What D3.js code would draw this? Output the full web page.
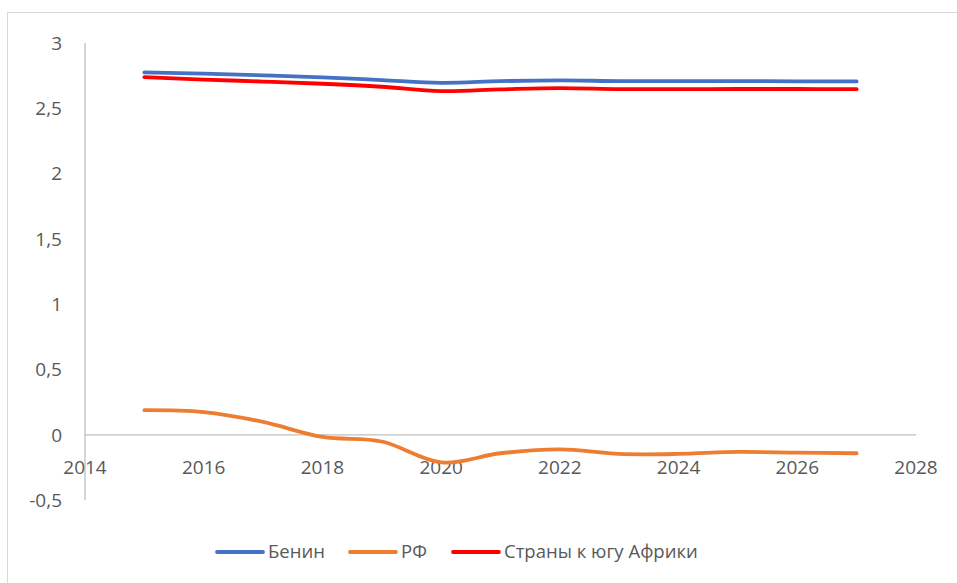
<!DOCTYPE html>
<html><head><meta charset="utf-8">
<script src="https://cdn.jsdelivr.net/npm/d3@7"></script>
<style>body{margin:0;background:#fff;} text{font-family:"Open Sans","Noto Sans",sans-serif;fill:#595959;}</style>
</head><body>
<svg id="c" width="957" height="583"></svg>
<script>
const years = [2015,2016,2017,2018,2019,2020,2021,2022,2023,2024,2025,2026,2027];
const benin = [2.775,2.765,2.752,2.737,2.716,2.695,2.708,2.714,2.708,2.708,2.708,2.707,2.706];
const rf = [0.19,0.175,0.10,-0.015,-0.05,-0.21,-0.14,-0.11,-0.145,-0.145,-0.13,-0.135,-0.14];
const south = [2.739,2.72,2.705,2.688,2.665,2.632,2.645,2.655,2.647,2.647,2.648,2.648,2.647];
const xTicks = [2014,2016,2018,2020,2022,2024,2026,2028];
const yTicks = [-0.5,0,0.5,1,1.5,2,2.5,3];
const seriesNames = ["Бенин","РФ","Страны к югу Африки"];
const colors = ["#4472C4","#ED7D31","#FF0000"];

const svg = d3.select("#c");
svg.append("rect").attr("x",7.5).attr("y",12.5).attr("width",960).attr("height",580)
  .attr("fill","none").attr("stroke","#D9D9D9").attr("stroke-width",1);

const x = d3.scaleLinear().domain([2014,2028]).range([85,916]);
const y = d3.scaleLinear().domain([-0.5,3]).range([500.3,43]);

svg.append("line").attr("x1",x(2014)).attr("x2",x(2014)).attr("y1",y(3)).attr("y2",y(-0.5))
  .attr("stroke","#BFBFBF").attr("stroke-width",1.3);
svg.append("line").attr("x1",x(2014)).attr("x2",x(2028)).attr("y1",y(0)).attr("y2",y(0))
  .attr("stroke","#BFBFBF").attr("stroke-width",1.3);

const fmt = v => String(v).replace(".",",");
svg.selectAll(".yt").data(yTicks).enter().append("text")
  .attr("x",62).attr("y",d=>y(d)).attr("dy","0.35em").attr("text-anchor","end")
  .attr("font-size",19).text(d=>fmt(d));
svg.selectAll(".xt").data(xTicks).enter().append("text")
  .attr("x",d=>x(d)).attr("y",y(0)+32).attr("dy","0.35em").attr("text-anchor","middle")
  .attr("font-size",19).text(d=>d);

const data = [benin, rf, south];
const line = d3.line().x((d,i)=>x(years[i])).y(d=>y(d)).curve(d3.curveCardinal.tension(0));
data.forEach((s,k)=>{
  svg.append("path").attr("d",line(s)).attr("fill","none").attr("stroke",colors[k])
    .attr("stroke-width",3.8).attr("stroke-linecap","round");
});

const lx = [217,350,453];
seriesNames.forEach((n,k)=>{
  svg.append("line").attr("x1",lx[k]).attr("x2",lx[k]+46).attr("y1",552).attr("y2",552)
    .attr("stroke",colors[k]).attr("stroke-width",3.8).attr("stroke-linecap","round");
  svg.append("text").attr("x",lx[k]+51).attr("y",552).attr("dy","0.35em")
    .attr("font-size",18.5).text(n);
});
</script>
</body></html>
